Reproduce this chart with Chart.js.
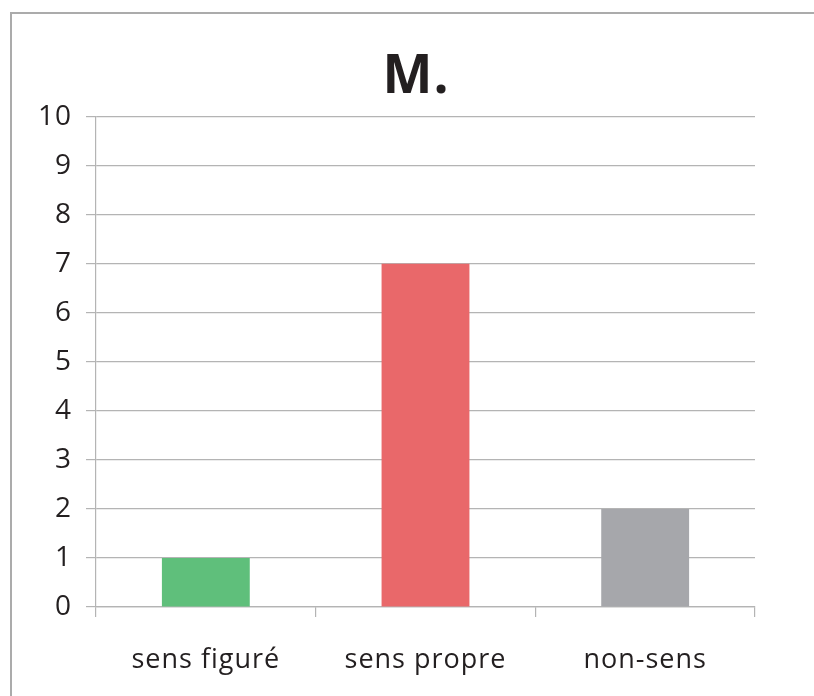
<!DOCTYPE html>
<html>
<head>
<meta charset="utf-8">
<script src="https://cdn.jsdelivr.net/npm/chart.js@4"></script>
<style>
  html,body{margin:0;padding:0;background:#fff;}
  #wrap{position:relative;width:814px;height:696px;overflow:hidden;}
  #frame{position:absolute;left:10px;top:12px;width:900px;height:800px;border:2px solid #ababab;box-sizing:border-box;}
  canvas{position:absolute;left:0;top:0;}
</style>
</head>
<body>
<div id="wrap">
  <div id="frame"></div>
  <canvas id="c" width="814" height="696"></canvas>
</div>
<script>
const categories = ['sens figuré', 'sens propre', 'non-sens'];
const values = [1, 7, 2];
const barColors = ['#5fbf7b', '#e9686a', '#a6a7ab'];
const yTicks = [0, 1, 2, 3, 4, 5, 6, 7, 8, 9, 10];

const FONT = '"Open Sans", sans-serif';

// wider letter spacing like the source, and title centred a bit right of the canvas middle
const tweaks = {
  id: 'tweaks',
  afterLayout: chart => { if (chart.titleBlock) chart.titleBlock.left = 77; },
  beforeDraw: chart => { chart.ctx.letterSpacing = '1px'; }
};

new Chart(document.getElementById('c'), {
  type: 'bar',
  data: {
    labels: categories,
    datasets: [{ data: values, backgroundColor: barColors, barPercentage: 0.4, categoryPercentage: 1 }]
  },
  plugins: [tweaks],
  options: {
    responsive: false,
    animation: false,
    layout: { padding: { top: 0, right: 59, left: 0, bottom: 0 } },
    plugins: {
      legend: { display: false },
      tooltip: { enabled: false },
      title: {
        display: true, text: 'M.', color: '#231f20',
        font: { family: FONT, size: 53, weight: 'bold' },
        padding: { top: 46, bottom: 7 }
      }
    },
    scales: {
      y: {
        min: 0, max: 10,
        afterFit: s => { s.width = 96; },
        afterBuildTicks: s => { s.ticks = yTicks.map(v => ({ value: v })); },
        grid: { color: '#b4b4b4', lineWidth: 1.2, tickLength: 10 },
        border: { color: '#b4b4b4', width: 1.2 },
        ticks: { color: '#231f20', font: { family: FONT, size: 28 }, padding: 14 }
      },
      x: {
        afterFit: s => { s.height = 89; },
        grid: { drawOnChartArea: false, color: '#b4b4b4', lineWidth: 1.2, tickLength: 10, offset: true },
        border: { color: '#b4b4b4', width: 1.2 },
        ticks: { color: '#231f20', font: { family: FONT, size: 27 }, padding: 27 }
      }
    }
  }
});
</script>
</body>
</html>
